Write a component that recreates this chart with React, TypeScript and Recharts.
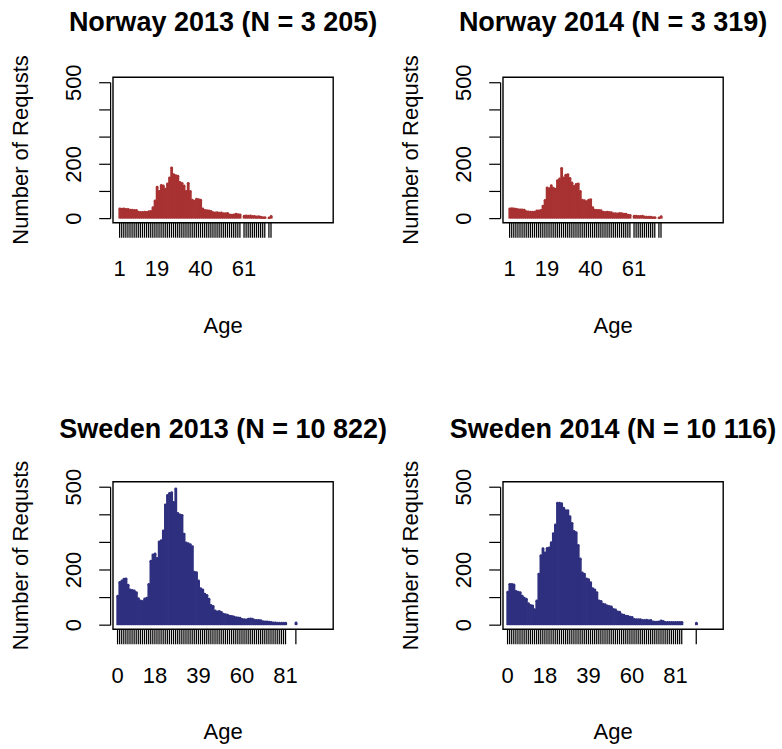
import { Bar, BarChart, ReferenceArea, ReferenceLine, XAxis, YAxis } from "recharts";

const FONT = "'Liberation Sans', Arial, Helvetica, sans-serif";

// ages present in each register, and number of requests per age
const norway2013Ages = [
  1, 2, 3, 4, 5, 6, 7, 8, 9, 10, 11, 12, 13, 14, 15, 16, 17, 18, 19, 20, 21,
  22, 23, 24, 25, 26, 27, 28, 29, 30, 31, 32, 33, 34, 35, 36, 37, 38, 39, 40,
  41, 42, 43, 44, 45, 46, 47, 48, 49, 50, 51, 52, 53, 54, 55, 56, 57, 58, 59,
  61, 62, 63, 64, 65, 66, 67, 68, 69, 70, 71, 73, 74,
];
const norway2013Counts = [
  36, 35, 36, 34, 34, 31, 31, 30, 30, 24, 23, 23, 24, 23, 26, 27, 40, 65, 116,
  100, 122, 120, 108, 128, 150, 187, 162, 158, 156, 133, 130, 120, 100, 130,
  100, 68, 64, 72, 70, 68, 36, 30, 29, 28, 27, 22, 21, 22, 20, 21, 18, 18, 19,
  14, 13, 14, 16, 15, 14, 9, 10, 9, 10, 8, 8, 6, 7, 5, 4, 4, 3, 8,
];

const norway2014Ages = norway2013Ages;
const norway2014Counts = [
  36, 37, 36, 35, 33, 32, 32, 31, 26, 25, 24, 24, 24, 28, 28, 30, 46, 67, 113,
  110, 121, 112, 108, 140, 146, 185, 150, 160, 162, 148, 131, 119, 126, 128,
  100, 68, 66, 62, 68, 70, 40, 31, 30, 30, 29, 24, 23, 24, 23, 22, 18, 18, 17,
  19, 18, 16, 16, 13, 12, 9, 9, 8, 8, 9, 6, 5, 5, 5, 4, 4, 3, 7,
];

const sweden2013Ages = [
  0, 1, 2, 3, 4, 5, 6, 7, 8, 9, 10, 11, 12, 13, 14, 15, 16, 17, 18, 19, 20, 21,
  22, 23, 24, 25, 26, 27, 28, 29, 30, 31, 32, 33, 34, 35, 36, 37, 38, 39, 40,
  41, 42, 43, 44, 45, 46, 47, 48, 49, 50, 51, 52, 53, 54, 55, 56, 57, 58, 59,
  60, 61, 62, 63, 64, 65, 66, 67, 68, 69, 70, 71, 72, 73, 74, 75, 76, 77, 78,
  79, 80, 81, 86,
];
const sweden2013Counts = [
  105, 155, 160, 167, 168, 145, 128, 126, 124, 118, 96, 88, 86, 95, 98, 148,
  232, 255, 258, 242, 302, 306, 342, 436, 470, 478, 480, 445, 494, 405, 400,
  398, 330, 298, 295, 292, 285, 192, 190, 160, 132, 128, 112, 108, 94, 72, 68,
  52, 48, 50, 46, 40, 38, 36, 33, 32, 30, 27, 26, 25, 21, 20, 19, 22, 23, 22,
  18, 17, 17, 16, 13, 12, 12, 11, 10, 8, 8, 7, 7, 7, 7, 7, 8,
];

const sweden2014Ages = [
  0, 1, 2, 3, 4, 5, 6, 7, 8, 9, 10, 11, 12, 13, 14, 15, 16, 17, 18, 19, 20, 21,
  22, 23, 24, 25, 26, 27, 28, 29, 30, 31, 32, 33, 34, 35, 36, 37, 38, 39, 40,
  41, 42, 43, 44, 45, 46, 47, 48, 49, 50, 51, 52, 53, 54, 55, 56, 57, 58, 59,
  60, 61, 62, 63, 64, 65, 66, 67, 68, 69, 70, 71, 72, 73, 74, 75, 76, 77, 78,
  79, 80, 81, 82, 83, 84, 91,
];
const sweden2014Counts = [
  120, 148, 148, 146, 122, 120, 118, 105, 98, 94, 78, 72, 70, 56, 88, 185, 252,
  277, 262, 278, 280, 299, 332, 363, 442, 442, 440, 424, 415, 415, 393, 369,
  340, 335, 289, 240, 189, 185, 168, 165, 154, 132, 128, 118, 88, 86, 76, 74,
  70, 68, 66, 57, 55, 48, 47, 38, 36, 33, 32, 29, 28, 21, 20, 20, 20, 17, 17,
  18, 16, 17, 12, 11, 11, 12, 15, 14, 10, 10, 10, 10, 10, 10, 10, 10, 10, 7,
];

const norwayAgeLabels = [1, 19, 40, 61];
const swedenAgeLabels = [0, 18, 39, 60, 81];
const yTicks = [0, 100, 200, 300, 400, 500];
const yTickLabels = [0, 200, 500];

const X_DOMAIN: [number, number] = [-2.2, 104];
const Y_DOMAIN: [number, number] = [-15, 520];
const Y_AXIS_AT = -3.35;

const PANEL_W = 390;
const PANEL_H = 345;
const PLOT_LEFT = 113;
const PLOT_RIGHT = 333.2;
const AXIS_X = PLOT_LEFT - 2.3;

const Stick = (props: any) => {
  const { x, y, width, height, fill } = props;
  const cx = x + width / 2;
  return (
    <g>
      <rect x={cx - 1.4} y={y} width={2.8} height={height} fill={fill} />
      <circle cx={cx} cy={y} r={1.4} fill={fill} />
    </g>
  );
};

interface IPanel {
  title: string;
  ages: number[];
  counts: number[];
  color: string;
  ageLabels: number[];
  left: number;
  top: number;
  plotTop: number;
  plotHeight: number;
  titleY: number;
}

const Panel = (props: IPanel) => {
  const rows = props.ages.map((age, i) => ({ age, count: props.counts[i] }));
  const plotBottom = props.plotTop + props.plotHeight;
  const midX = (PLOT_LEFT + PLOT_RIGHT) / 2;
  const midY = props.plotTop + props.plotHeight / 2;
  return (
    <div style={{ position: "absolute", left: props.left, top: props.top }}>
      <BarChart
        width={PANEL_W}
        height={PANEL_H}
        data={rows}
        margin={{
          top: props.plotTop,
          left: PLOT_LEFT - 60,
          right: PANEL_W - PLOT_RIGHT,
          bottom: PANEL_H - plotBottom - 60,
        }}
      >
        <XAxis
          dataKey="age"
          type="number"
          domain={X_DOMAIN}
          allowDataOverflow
          ticks={props.ages}
          interval={0}
          height={60}
          axisLine={false}
          tickSize={15}
          tickLine={{ stroke: "#000", strokeWidth: 1.25 }}
          tick={(p: any) =>
            props.ageLabels.includes(p.payload.value) ? (
              <text
                x={p.x}
                y={plotBottom + 53.5}
                textAnchor="middle"
                fontSize={22}
                fontFamily={FONT}
                fill="#000"
              >
                {p.payload.value}
              </text>
            ) : (
              <g />
            )
          }
        />
        <YAxis
          type="number"
          domain={Y_DOMAIN}
          allowDataOverflow
          ticks={yTicks}
          interval={0}
          width={60}
          axisLine={false}
          tickLine={false}
          tick={(p: any) => (
            <g>
              <line
                x1={AXIS_X - 11.5}
                x2={AXIS_X}
                y1={p.y}
                y2={p.y}
                stroke="#000"
                strokeWidth={1.2}
              />
              {yTickLabels.includes(p.payload.value) && (
                <text
                  x={80.7}
                  y={p.y}
                  transform={`rotate(-90, 80.7, ${p.y})`}
                  textAnchor="middle"
                  fontSize={22}
                  fontFamily={FONT}
                  fill="#000"
                >
                  {p.payload.value}
                </text>
              )}
            </g>
          )}
        />
        <ReferenceArea
          x1={X_DOMAIN[0]}
          x2={X_DOMAIN[1]}
          y1={Y_DOMAIN[0]}
          y2={Y_DOMAIN[1]}
          fill="none"
          fillOpacity={0}
          stroke="#000"
          strokeWidth={1.4}
          ifOverflow="visible"
        />
        <ReferenceLine
          segment={[
            { x: Y_AXIS_AT, y: 0 },
            { x: Y_AXIS_AT, y: 500 },
          ]}
          stroke="#000"
          strokeWidth={1.2}
          ifOverflow="visible"
        />
        <Bar
          dataKey="count"
          fill={props.color}
          isAnimationActive={false}
          shape={<Stick />}
        />
        <text
          x={midX}
          y={props.titleY}
          textAnchor="middle"
          fontSize={27}
          fontWeight="bold"
          fontFamily={FONT}
          fill="#000"
        >
          {props.title}
        </text>
        <text
          x={28.3}
          y={midY}
          transform={`rotate(-90, 28.3, ${midY})`}
          textAnchor="middle"
          fontSize={22}
          fontFamily={FONT}
          fill="#000"
        >
          Number of Requsts
        </text>
        <text
          x={midX}
          y={plotBottom + 110}
          textAnchor="middle"
          fontSize={22}
          fontFamily={FONT}
          fill="#000"
        >
          Age
        </text>
      </BarChart>
    </div>
  );
};

const RED = "#a83131";
const BLUE = "#2e2f7e";

const App = () => {
  return (
    <div
      style={{
        position: "absolute",
        left: 0,
        top: 0,
        width: 782,
        height: 749,
        background: "#fff",
        fontFamily: FONT,
      }}
    >
      <Panel
        title="Norway 2013 (N = 3 205)"
        ages={norway2013Ages}
        counts={norway2013Counts}
        color={RED}
        ageLabels={norwayAgeLabels}
        left={0}
        top={0}
        plotTop={77.3}
        plotHeight={145.4}
        titleY={30.7}
      />
      <Panel
        title="Norway 2014 (N = 3 319)"
        ages={norway2014Ages}
        counts={norway2014Counts}
        color={RED}
        ageLabels={norwayAgeLabels}
        left={389.5}
        top={0}
        plotTop={77.3}
        plotHeight={145.4}
        titleY={30.7}
      />
      <Panel
        title="Sweden 2013 (N = 10 822)"
        ages={sweden2013Ages}
        counts={sweden2013Counts}
        color={BLUE}
        ageLabels={swedenAgeLabels}
        left={0}
        top={404}
        plotTop={77.7}
        plotHeight={147.6}
        titleY={34.3}
      />
      <Panel
        title="Sweden 2014 (N = 10 116)"
        ages={sweden2014Ages}
        counts={sweden2014Counts}
        color={BLUE}
        ageLabels={swedenAgeLabels}
        left={389.5}
        top={404}
        plotTop={77.7}
        plotHeight={147.6}
        titleY={34.3}
      />
    </div>
  );
};

export default App;
